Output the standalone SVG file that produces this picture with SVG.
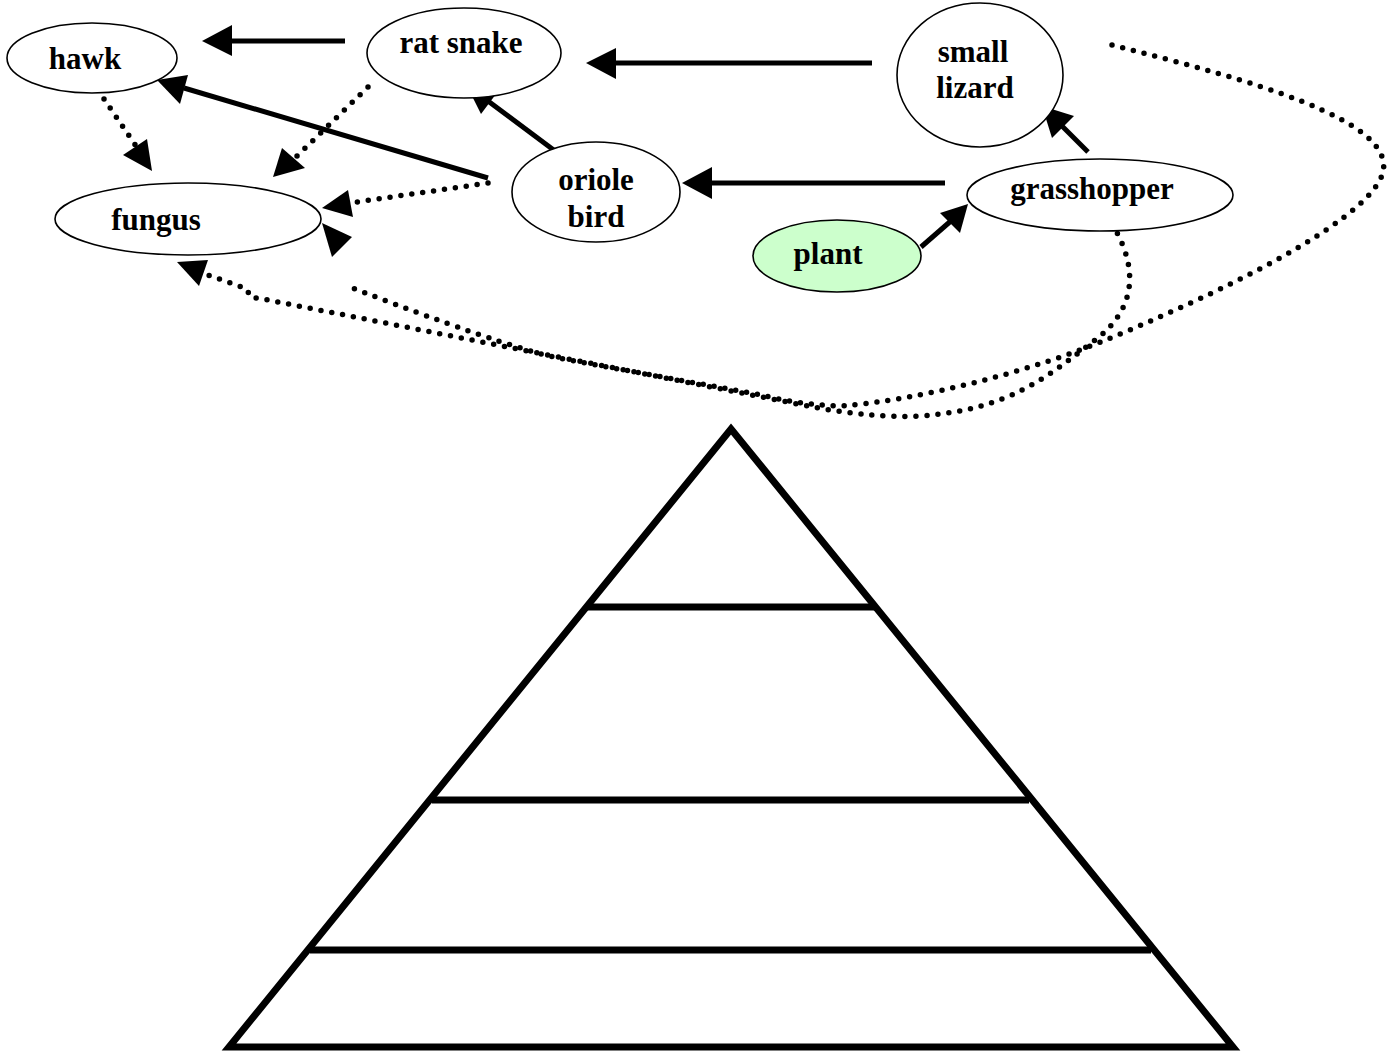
<svg xmlns="http://www.w3.org/2000/svg" width="1397" height="1057" viewBox="0 0 1397 1057">
<style>
.node ellipse{fill:#fff;stroke:#000;stroke-width:1.6}
.node text{font-family:"Liberation Serif","Times New Roman",serif;font-weight:bold;font-size:31px;text-anchor:middle;fill:#000}
.solid{stroke:#000;stroke-width:5;fill:none}
.dot{stroke:#000;stroke-width:5.5;fill:none;stroke-dasharray:0 11;stroke-linecap:round}
.head{fill:#000;stroke:none}
.pyr{stroke:#000;stroke-width:7;fill:none}
</style>
<rect width="1397" height="1057" fill="#fff"/>
<g id="connectors">
  <!-- solid arrows -->
  <line class="solid" x1="345" y1="41" x2="228" y2="41"/>
  <polygon class="head" points="202,41 232,25 232,56"/>
  <line class="solid" x1="872" y1="63" x2="612" y2="63"/>
  <polygon class="head" points="586,63 616,48 616,79"/>
  <line class="solid" x1="945" y1="183" x2="708" y2="183"/>
  <polygon class="head" points="682,183 712,167 712,199"/>
  <line class="solid" x1="559" y1="154" x2="488" y2="101"/>
  <polygon class="head" points="466,84 499,90 481,114"/>
  <line class="solid" x1="488" y1="178" x2="184" y2="88"/>
  <polygon class="head" points="157,80 188,75 180,104"/>
  <line class="solid" x1="1088" y1="152" x2="1061" y2="125"/>
  <polygon class="head" points="1042,106 1074,116 1052,138"/>
  <line class="solid" x1="921" y1="247" x2="952" y2="220"/>
  <polygon class="head" points="968,204 940,213 960,233"/>
  <!-- dotted arrows -->
  <path class="dot" d="M104,99 L136,146"/>
  <polygon class="head" points="152,171 123,155 147,139"/>
  <path class="dot" d="M368,87 L296,157"/>
  <polygon class="head" points="273,177 282,148 305,168"/>
  <path class="dot" d="M488,183 L350,203"/>
  <polygon class="head" points="322,208 348,190 353,217"/>
  <polygon class="head" points="322,223 352,237 332,257"/>
  <path class="dot" d="M1112,224 C1140,270 1135,310 1095,340 C1050,375 1010,410 920,416 C880,418 840,412 813,407 L263,299 L250,297 L247,289 L208,275"/>
  <polygon class="head" points="177,262 208,260 199,286"/>
  <path class="dot" d="M1112,45 C1250,80 1395,120 1383,172 C1372,215 1250,280 1113,337 C1030,372 920,400 840,406 C800,404 780,400 762,395 L558,358 C520,350 440,322 345,285"/>
</g>
<g id="hawk" class="node"><ellipse cx="92" cy="58" rx="85" ry="35"/><text x="85" y="69">hawk</text></g>
<g id="rat-snake" class="node"><ellipse cx="464" cy="53" rx="97" ry="45"/><text x="461" y="53">rat snake</text></g>
<g id="small-lizard" class="node"><ellipse cx="980" cy="75" rx="83" ry="72"/><text x="973" y="62">small</text><text x="975" y="98">lizard</text></g>
<g id="fungus" class="node"><ellipse cx="188" cy="219" rx="133" ry="36"/><text x="156" y="230">fungus</text></g>
<g id="oriole-bird" class="node"><ellipse cx="596" cy="192" rx="84" ry="50"/><text x="596" y="190">oriole</text><text x="596" y="227">bird</text></g>
<g id="grasshopper" class="node"><ellipse cx="1100" cy="195" rx="133" ry="36"/><text x="1092" y="199">grasshopper</text></g>
<g id="plant" class="node"><ellipse cx="837" cy="256" rx="84" ry="36" style="fill:#ccffcc"/><text x="828" y="264">plant</text></g>
<g id="pyramid">
  <polygon class="pyr" points="731,429 1233,1047 229,1047" stroke-linejoin="miter"/>
  <line class="pyr" x1="587" y1="607" x2="876" y2="607"/>
  <line class="pyr" x1="432" y1="800" x2="1029" y2="800"/>
  <line class="pyr" x1="310" y1="950" x2="1151" y2="950"/>
</g>
</svg>
